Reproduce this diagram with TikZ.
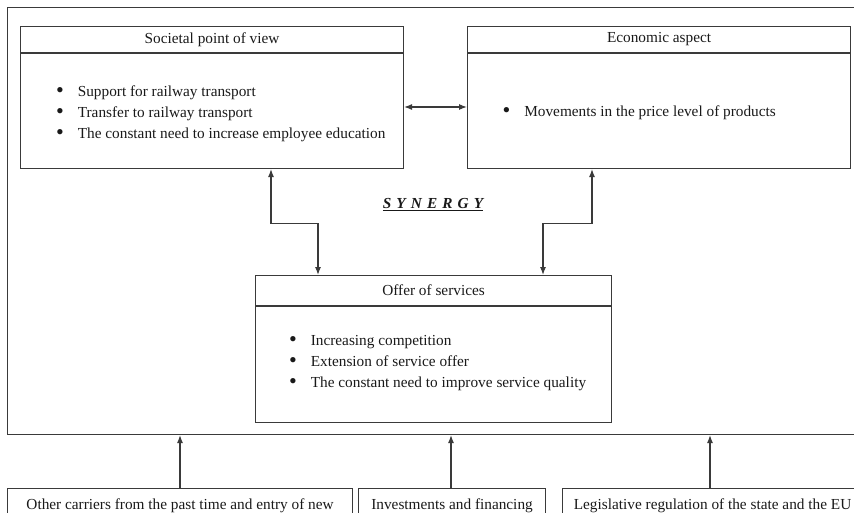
\documentclass[tikz,border=0pt]{standalone}
\usepackage{fontspec}
\setmainfont{Liberation Serif}
\usetikzlibrary{arrows.meta, calc}
\definecolor{inkgray}{HTML}{3A3A3A}
\newcommand{\blt}{\raisebox{-1.3pt}{\scalebox{1.45}{\textbullet}}}

\begin{document}
\begin{tikzpicture}[x=1pt, y=-1pt, line width=1.1pt, draw=inkgray,
  every node/.style={font=\fontsize{15.3}{21}\selectfont, text=black!90},
  box/.style={draw, rectangle, inner sep=0pt, anchor=north west},
  head/.style={anchor=center},
  list/.style={anchor=west, inner sep=0pt},
  arr/.style={-{Latex[length=8pt, width=6pt]}},
  dbl/.style={{Latex[length=8pt, width=6pt]}-{Latex[length=8pt, width=6pt]}}]
  \useasboundingbox (0,0) rectangle (854,513);

  \node[box, minimum width=890pt, minimum height=427pt] (frame) at (7,7) {};

  \node[box, minimum width=383pt, minimum height=142pt] (soc) at (20,26) {};
  \draw ($(soc.north west)+(0,27)$) -- ($(soc.north east)+(0,27)$);
  \node[head] (socT) at ($(soc.north)+(0,13.5)$) {Societal point of view};
  \node[list] (socL) at (55.5,113) {\begin{tabular}{@{}c@{\hspace{14pt}}l@{}}
    \blt & Support for railway transport\\
    \blt & Transfer to railway transport\\
    \blt & The constant need to increase employee education
  \end{tabular}};

  \node[box, minimum width=383pt, minimum height=142pt] (eco) at (467,26) {};
  \draw ($(eco.north west)+(0,27)$) -- ($(eco.north east)+(0,27)$);
  \node[head] (ecoT) at ($(eco.north)+(0,13.5)$) {Economic aspect};
  \node[list] (ecoL) at (502,112) {\begin{tabular}{@{}c@{\hspace{14pt}}l@{}}
    \blt & Movements in the price level of products
  \end{tabular}};

  \node[box, minimum width=356pt, minimum height=147pt] (off) at (255,275) {};
  \draw ($(off.north west)+(0,31)$) -- ($(off.north east)+(0,31)$);
  \node[head] (offT) at ($(off.north)+(0,15.5)$) {Offer of services};
  \node[list] (offL) at (288.5,362) {\begin{tabular}{@{}c@{\hspace{14pt}}l@{}}
    \blt & Increasing competition\\
    \blt & Extension of service offer\\
    \blt & The constant need to improve service quality
  \end{tabular}};

  \node (syn) at (433,205) {\textbf{\textit{\underline{S\,\,Y\,\,N\,\,E\,\,R\,\,G\,\,Y}}}};

  \draw[dbl] (soc.east |- 0,107) -- (eco.west |- 0,107);
  \draw[dbl] (soc.south -| 271,0) -- ++(0,54) -| (off.north -| 318,0);
  \draw[dbl] (eco.south -| 592,0) -- ++(0,54) -| (off.north -| 543,0);

  \node[box, minimum width=345pt, minimum height=34pt] (carr) at (7,488) {Other carriers from the past time and entry of new};
  \node[box, minimum width=187pt, minimum height=34pt] (inv) at (358,488) {Investments and financing};
  \node[box, minimum width=300pt, minimum height=34pt] (leg) at (562,488) {Legislative regulation of the state and the EU};

  \draw[arr] (carr.north -| 180,0) -- (frame.south -| 180,0);
  \draw[arr] (inv.north -| 451,0) -- (frame.south -| 451,0);
  \draw[arr] (leg.north -| 710,0) -- (frame.south -| 710,0);
\end{tikzpicture}
\end{document}
